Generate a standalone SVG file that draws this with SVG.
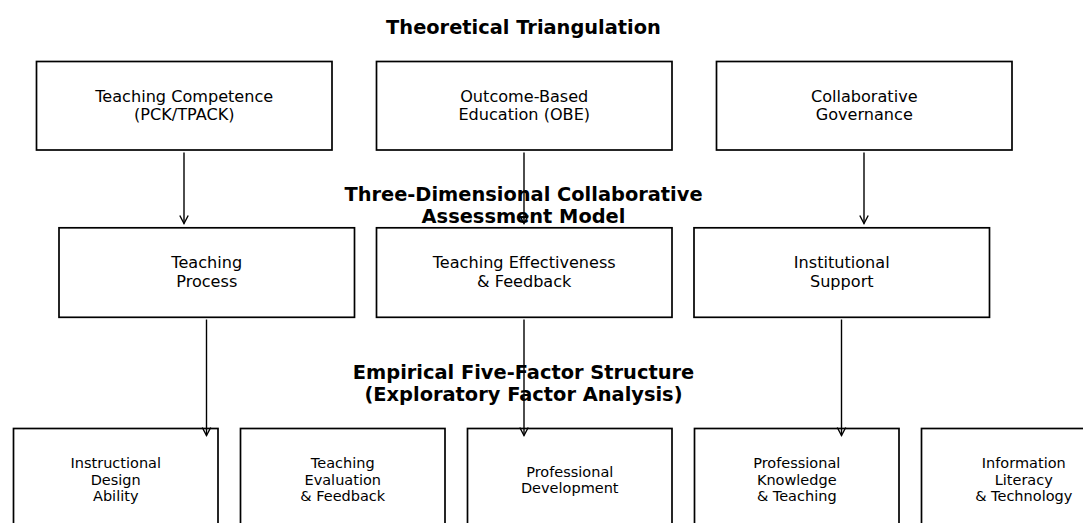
<svg xmlns="http://www.w3.org/2000/svg" width="1083" height="523" viewBox="0 0 1083 523">
  <style>
    .box { fill: #ffffff; stroke: #000000; stroke-width: 1.7; }
    .label { font-family: "DejaVu Sans", sans-serif; font-size: 16.1px; fill: #000000; text-anchor: middle; }
    .small { font-family: "DejaVu Sans", sans-serif; font-size: 14.5px; fill: #000000; text-anchor: middle; }
    .title { font-family: "DejaVu Sans", sans-serif; font-size: 19.4px; font-weight: bold; fill: #000000; text-anchor: middle; }
    .edge { fill: none; stroke: #000000; stroke-width: 1.4; marker-end: url(#arrow); }
  </style>
  <defs>
    <marker id="arrow" markerUnits="userSpaceOnUse" markerWidth="12" markerHeight="12" viewBox="-10 -6 12 12" refX="0" refY="0" orient="auto">
      <path d="M-8,-4.2 L0,0 L-8,4.2" fill="none" stroke="#000000" stroke-width="1.4"/>
    </marker>
  </defs>

  <rect width="1083" height="523" fill="#ffffff"/>

  <!-- layer: theory -->
  <g id="node-teaching-competence">
    <rect class="box" x="36.5" y="61.5" width="295.5" height="88.5"/>
    <text class="label" x="184.25" y="101.5">Teaching Competence</text>
    <text class="label" x="184.25" y="120">(PCK/TPACK)</text>
  </g>
  <g id="node-obe">
    <rect class="box" x="376.5" y="61.5" width="295.5" height="88.5"/>
    <text class="label" x="524.25" y="101.5">Outcome-Based</text>
    <text class="label" x="524.25" y="120">Education (OBE)</text>
  </g>
  <g id="node-governance">
    <rect class="box" x="716.5" y="61.5" width="295.5" height="88.5"/>
    <text class="label" x="864.25" y="101.5">Collaborative</text>
    <text class="label" x="864.25" y="120">Governance</text>
  </g>

  <!-- layer: assessment model -->
  <g id="node-teaching-process">
    <rect class="box" x="59" y="227.8" width="295.5" height="89.5"/>
    <text class="label" x="206.75" y="268">Teaching</text>
    <text class="label" x="206.75" y="286.5">Process</text>
  </g>
  <g id="node-effectiveness">
    <rect class="box" x="376.5" y="227.8" width="295.5" height="89.5"/>
    <text class="label" x="524.25" y="268">Teaching Effectiveness</text>
    <text class="label" x="524.25" y="286.5">&amp; Feedback</text>
  </g>
  <g id="node-institutional">
    <rect class="box" x="694" y="227.8" width="295.5" height="89.5"/>
    <text class="label" x="841.75" y="268">Institutional</text>
    <text class="label" x="841.75" y="286.5">Support</text>
  </g>

  <!-- layer: five factors -->
  <g id="node-instructional-design">
    <rect class="box" x="13.5" y="428.5" width="204.5" height="104"/>
    <text class="small" x="115.75" y="468.3">Instructional</text>
    <text class="small" x="115.75" y="484.8">Design</text>
    <text class="small" x="115.75" y="501.3">Ability</text>
  </g>
  <g id="node-evaluation">
    <rect class="box" x="240.5" y="428.5" width="204.5" height="104"/>
    <text class="small" x="342.75" y="468.3">Teaching</text>
    <text class="small" x="342.75" y="484.8">Evaluation</text>
    <text class="small" x="342.75" y="501.3">&amp; Feedback</text>
  </g>
  <g id="node-development">
    <rect class="box" x="467.5" y="428.5" width="204.5" height="104"/>
    <text class="small" x="569.75" y="476.8">Professional</text>
    <text class="small" x="569.75" y="493.3">Development</text>
  </g>
  <g id="node-knowledge">
    <rect class="box" x="694.5" y="428.5" width="204.5" height="104"/>
    <text class="small" x="796.75" y="468.3">Professional</text>
    <text class="small" x="796.75" y="484.8">Knowledge</text>
    <text class="small" x="796.75" y="501.3">&amp; Teaching</text>
  </g>
  <g id="node-literacy">
    <rect class="box" x="921.5" y="428.5" width="204.5" height="104"/>
    <text class="small" x="1023.75" y="468.3">Information</text>
    <text class="small" x="1023.75" y="484.8">Literacy</text>
    <text class="small" x="1023.75" y="501.3">&amp; Technology</text>
  </g>

  <!-- layer headings -->
  <g id="headings">
    <text class="title" x="523.5" y="33.5">Theoretical Triangulation</text>
    <text class="title" x="523.5" y="200.5">Three-Dimensional Collaborative</text>
    <text class="title" x="523.5" y="222.5">Assessment Model</text>
    <text class="title" x="523.5" y="379">Empirical Five-Factor Structure</text>
    <text class="title" x="523.5" y="400.5">(Exploratory Factor Analysis)</text>
  </g>

  <!-- connectors -->
  <g id="connectors">
    <line class="edge" x1="184" y1="152.5" x2="184" y2="223.5"/>
    <line class="edge" x1="524" y1="152.5" x2="524" y2="223.5"/>
    <line class="edge" x1="864" y1="152.5" x2="864" y2="223.5"/>
    <line class="edge" x1="206.5" y1="319.5" x2="206.5" y2="435.5"/>
    <line class="edge" x1="524" y1="319.5" x2="524" y2="435.5"/>
    <line class="edge" x1="841.5" y1="319.5" x2="841.5" y2="435.5"/>
  </g>
</svg>
